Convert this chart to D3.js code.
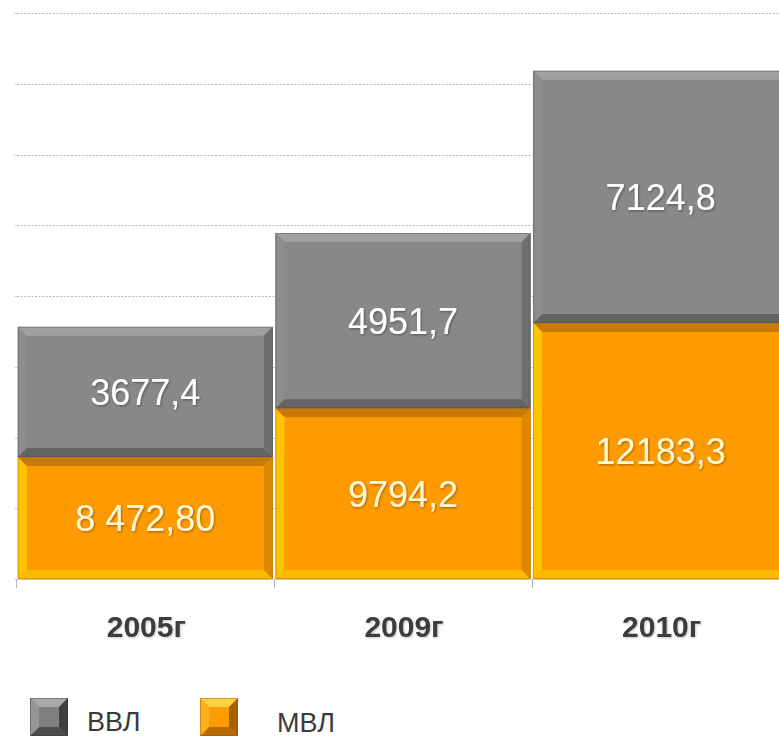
<!DOCTYPE html>
<html><head><meta charset="utf-8">
<script src="https://cdn.jsdelivr.net/npm/d3@7/dist/d3.min.js"></script>
<style>html,body{margin:0;padding:0;background:#fff;overflow:hidden}</style>
</head><body><svg id="c" width="779" height="738"></svg>
<script>
// ---- data ----
const categories = ["2005г", "2009г", "2010г"];
const seriesNames = ["ВВЛ", "МВЛ"];
// bar segment sizes (value axis: 2000 per gridline)
const mvlValues = [3450, 4830, 7240];
const vvlValues = [3677.4, 4951.7, 7124.8];
// printed data labels
const mvlLabels = ["8 472,80", "9794,2", "12183,3"];
const vvlLabels = ["3677,4", "4951,7", "7124,8"];
const yTicks = [0, 2000, 4000, 6000, 8000, 10000, 12000, 14000, 16000];

const svg = d3.select("#c");
const defs = svg.append("defs");
const f = defs.append("filter").attr("id","sh").attr("x","-10%").attr("y","-10%").attr("width","130%").attr("height","140%");
f.append("feDropShadow").attr("dx",1).attr("dy",1.2).attr("stdDeviation",0.9).attr("flood-color","#000").attr("flood-opacity",0.35);
const f2 = defs.append("filter").attr("id","sh2").attr("x","-10%").attr("y","-10%").attr("width","130%").attr("height","140%");
f2.append("feDropShadow").attr("dx",1).attr("dy",1).attr("stdDeviation",0.8).attr("flood-color","#000").attr("flood-opacity",0.22);

const x = d3.scaleBand().domain(categories).range([17, 789]).paddingInner(0.01).paddingOuter(0.003);
const y = d3.scaleLinear().domain([0, 16000]).range([579, 13]);

// gridlines
svg.append("g").selectAll("line").data(yTicks.filter(d => d > 0)).join("line")
  .attr("x1", 17).attr("x2", 779)
  .attr("y1", d => Math.round(y(d)) + 0.5).attr("y2", d => Math.round(y(d)) + 0.5)
  .attr("stroke", "#b8b8b8").attr("stroke-width", 1).attr("stroke-dasharray", "2,1.6");

// y axis ticks only (axis line hidden)
const yAx = svg.append("g").attr("transform", "translate(17.5,0)")
  .call(d3.axisLeft(y).tickValues(yTicks).tickSize(3).tickFormat(""));
yAx.select(".domain").remove();
yAx.selectAll("line").attr("stroke", "#d6cbb5");

const gray = {fill:"#888888", top:"#a0a0a0", left:"#8d8d8d", right:"#6e6e6e", bottom:"#646464", edge:"#4a4a4a"};
const orange = {fill:"#ff9a00", top:"#c97a05", left:"#ffc400", right:"#dd8800", bottom:"#ffb800", edge:"#a86400"};
const legGray = {fill:"#7f7f7f", top:"#a8a8a8", left:"#969696", right:"#3e3e3e", bottom:"#4d4d4d", edge:"#333"};
const legOrange = {fill:"#ff9d00", top:"#ffd040", left:"#ffb020", right:"#a86000", bottom:"#b86c00", edge:"#8a5000"};

function bevelBox(g, x0, y0, x1, y1, c, b) {
  g.append("rect").attr("x", x0).attr("y", y0).attr("width", x1 - x0).attr("height", y1 - y0).attr("fill", c.fill);
  const polys = [
    [c.top, [[x0,y0],[x1,y0],[x1-b,y0+b],[x0+b,y0+b]]],
    [c.bottom, [[x0,y1],[x1,y1],[x1-b,y1-b],[x0+b,y1-b]]],
    [c.left, [[x0,y0],[x0+b,y0+b],[x0+b,y1-b],[x0,y1]]],
    [c.right, [[x1,y0],[x1-b,y0+b],[x1-b,y1-b],[x1,y1]]]
  ];
  polys.forEach(([col, pts]) => g.append("polygon").attr("points", pts.map(p => p.join(",")).join(" ")).attr("fill", col));
  g.append("rect").attr("x", x0 + 0.5).attr("y", y0 + 0.5).attr("width", x1 - x0 - 1).attr("height", y1 - y0 - 1)
    .attr("fill", "none").attr("stroke", c.edge).attr("stroke-opacity", 0.4);
}

const bars = svg.append("g");
categories.forEach((cat, i) => {
  const x0 = x(cat), x1 = x(cat) + x.bandwidth();
  const yBase = y(0), yMid = y(mvlValues[i]), yTop = y(mvlValues[i] + vvlValues[i]);
  bevelBox(bars, x0, yMid, x1, yBase, orange, 9);
  bevelBox(bars, x0, yTop, x1, yMid, gray, 9);
});

// x axis baseline + ticks
svg.append("line").attr("x1", 17).attr("x2", 779).attr("y1", 579.5).attr("y2", 579.5).attr("stroke", "#d9c9a0");
svg.append("g").selectAll("line").data(categories).join("line")
  .attr("x1", d => Math.round(x(d) - x.step() * x.paddingInner() / 2) + 0.5)
  .attr("x2", d => Math.round(x(d) - x.step() * x.paddingInner() / 2) + 0.5)
  .attr("y1", 579).attr("y2", 588).attr("stroke", "#b8b8b8");

// data labels
const lab = svg.append("g").attr("font-family", "Liberation Sans, Arial, sans-serif").attr("font-size", 36)
  .attr("text-anchor", "middle").attr("filter", "url(#sh)");
categories.forEach((cat, i) => {
  const cx = x(cat) + x.bandwidth() / 2;
  const ym = (y(0) + y(mvlValues[i])) / 2;
  const yg = (y(mvlValues[i]) + y(mvlValues[i] + vvlValues[i])) / 2;
  lab.append("text").attr("x", cx).attr("y", ym + 13).attr("fill", "#fff8d8").text(mvlLabels[i]);
  lab.append("text").attr("x", cx).attr("y", yg + 13).attr("fill", "#ffffff").text(vvlLabels[i]);
});

// category labels
svg.append("g").selectAll("text").data(categories).join("text")
  .attr("x", d => x(d) + x.bandwidth() / 2 + 1).attr("y", 637)
  .attr("text-anchor", "middle").attr("font-family", "Liberation Sans, Arial, sans-serif")
  .attr("font-weight", "bold").attr("font-size", 30).attr("fill", "#3c3c3c").attr("filter", "url(#sh2)")
  .text(d => d);

// legend
const leg = svg.append("g");
const legendItems = [
  {name: seriesNames[0], c: legGray, bx: 30, tx: 87, ty: 731},
  {name: seriesNames[1], c: legOrange, bx: 200, tx: 277, ty: 732}
];
legendItems.forEach(it => {
  bevelBox(leg, it.bx, 698, it.bx + 38, 736, it.c, 9);
  leg.append("text").attr("x", it.tx).attr("y", it.ty).attr("font-family", "Liberation Sans, Arial, sans-serif")
    .attr("font-size", 27).attr("fill", "#3a3a3a").text(it.name);
});
</script></body></html>
